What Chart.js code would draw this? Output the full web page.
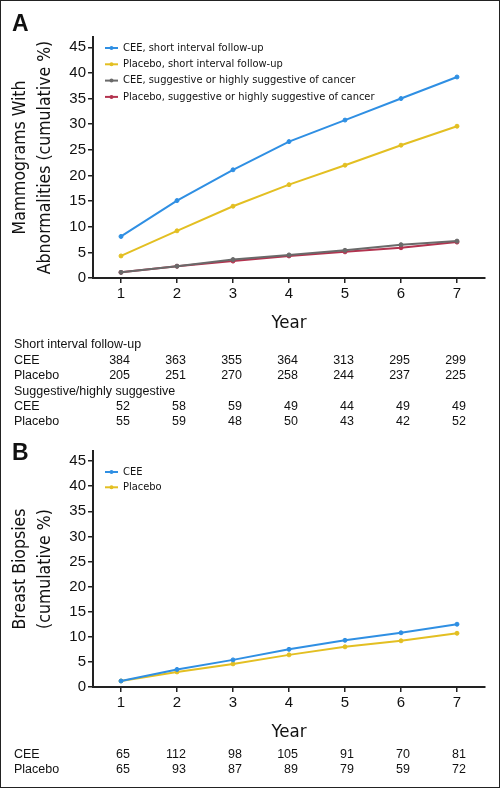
<!DOCTYPE html>
<html lang="en">
<head>
<meta charset="UTF-8">
<title>Mammograms and breast biopsies</title>
<script src="https://cdn.jsdelivr.net/npm/chart.js"></script>
<style>
  body { margin: 0; background: #fff; }
  #frame { position: relative; width: 500px; height: 788px; overflow: hidden; }
  #edge { position: absolute; left: 0; top: 0; right: 0; bottom: 0; border: 1.5px solid #222; pointer-events: none; }
  .panel { position: absolute; left: 0; width: 500px; }
  .letter { position: absolute; left: 12px; font: bold 23px "Liberation Sans", Arial, sans-serif; color: #111; }
</style>
</head>
<body>
<div id="frame">
  <div class="panel" style="top:0;height:440px"><canvas id="chartA" width="500" height="440"></canvas></div>
  <div class="panel" style="top:440px;height:348px"><canvas id="chartB" width="500" height="348"></canvas></div>
  <div class="letter" style="top:10px">A</div>
  <div class="letter" style="top:439px">B</div>
  <div id="edge"></div>
</div>
<script>
  const years = [1, 2, 3, 4, 5, 6, 7];
  const yTicks = [0, 5, 10, 15, 20, 25, 30, 35, 40, 45];

  // panel A, cumulative % of mammograms with abnormalities
  const ceeShort = [8.1, 15.1, 21.1, 26.6, 30.8, 35.0, 39.2];
  const placeboShort = [4.3, 9.2, 14.0, 18.2, 22.0, 25.9, 29.6];
  const ceeSuggestive = [1.1, 2.3, 3.6, 4.5, 5.4, 6.5, 7.2];
  const placeboSuggestive = [1.1, 2.3, 3.3, 4.3, 5.1, 5.9, 7.0];

  // panel B, cumulative % of breast biopsies
  const ceeBiopsy = [1.2, 3.5, 5.4, 7.5, 9.3, 10.8, 12.5];
  const placeboBiopsy = [1.2, 3.0, 4.6, 6.4, 8.0, 9.2, 10.7];

  // counts under the charts
  const ceeShortN = [384, 363, 355, 364, 313, 295, 299];
  const placeboShortN = [205, 251, 270, 258, 244, 237, 225];
  const ceeSuggestiveN = [52, 58, 59, 49, 44, 49, 49];
  const placeboSuggestiveN = [55, 59, 48, 50, 43, 42, 52];
  const ceeBiopsyN = [65, 112, 98, 105, 91, 70, 81];
  const placeboBiopsyN = [65, 93, 87, 89, 79, 59, 72];

  const blue = '#2f8fe3';
  const gold = '#e3bf22';
  const grey = '#6a6a6a';
  const wine = '#b3334f';

  const narrow = '"Liberation Sans Narrow", "DejaVu Sans Condensed", sans-serif';
  const regular = '"Liberation Sans", Arial, sans-serif';

  function points(values) {
    return years.map((y, i) => ({ x: y, y: values[i] }));
  }

  function series(label, values, color) {
    return {
      label: label,
      data: points(values),
      borderColor: color,
      backgroundColor: color,
      borderWidth: 2,
      pointRadius: 2,
      pointBorderWidth: 1,
      pointStyle: 'circle',
      tension: 0
    };
  }

  // legend drawn inside the plot, top left
  function insideLegend(top, step) {
    return {
      id: 'insideLegend',
      afterDatasetsDraw(chart) {
        const ctx = chart.ctx;
        const area = chart.chartArea;
        ctx.save();
        ctx.font = '11px ' + narrow;
        ctx.textBaseline = 'middle';
        ctx.textAlign = 'left';
        chart.data.datasets.forEach((ds, i) => {
          const y = area.top + top + i * step;
          const x0 = area.left + 12;
          ctx.strokeStyle = ds.borderColor;
          ctx.lineWidth = 2;
          ctx.beginPath();
          ctx.moveTo(x0, y);
          ctx.lineTo(x0 + 13, y);
          ctx.stroke();
          ctx.fillStyle = ds.borderColor;
          ctx.beginPath();
          ctx.arc(x0 + 6.5, y, 2, 0, Math.PI * 2);
          ctx.fill();
          ctx.fillStyle = '#111';
          ctx.fillText(ds.label, x0 + 18, y);
        });
        ctx.restore();
      }
    };
  }

  // counts table aligned to the year ticks
  function countTable(rows, top, step) {
    return {
      id: 'countTable',
      afterDraw(chart) {
        const ctx = chart.ctx;
        const xs = chart.scales.x;
        ctx.save();
        ctx.font = '12.5px ' + regular;
        ctx.fillStyle = '#111';
        ctx.textBaseline = 'middle';
        rows.forEach((row, i) => {
          const y = top + i * step;
          ctx.textAlign = 'left';
          ctx.fillText(row[0], 14, y);
          if (row[1]) {
            ctx.textAlign = 'right';
            row[1].forEach((v, j) => {
              ctx.fillText(String(v), xs.getPixelForValue(years[j]) + 9, y);
            });
          }
        });
        ctx.restore();
      }
    };
  }

  function makeChart(id, datasets, yTitle, padding, legend, table) {
    return new Chart(document.getElementById(id), {
      type: 'line',
      data: { datasets: datasets },
      plugins: [legend, table],
      options: {
        responsive: false,
        animation: false,
        devicePixelRatio: 1,
        layout: { padding: padding },
        plugins: {
          legend: { display: false },
          tooltip: { enabled: false }
        },
        scales: {
          x: {
            type: 'linear',
            min: 0.5,
            max: 7.5,
            afterBuildTicks: s => { s.ticks = years.map(v => ({ value: v })); },
            afterFit: s => { s.height = 60; },
            ticks: { color: '#111', font: { family: regular, size: 15 }, padding: 2 },
            grid: { drawOnChartArea: false, drawTicks: true, tickLength: 5, color: '#222', lineWidth: 1.5 },
            border: { color: '#222', width: 2 },
            title: { display: true, text: 'Year', color: '#111', font: { family: narrow, size: 18.5 }, padding: { top: 0, bottom: 4 } }
          },
          y: {
            min: 0,
            max: 47,
            afterBuildTicks: s => { s.ticks = yTicks.map(v => ({ value: v })); },
            afterFit: s => { s.width = 93; },
            ticks: { color: '#111', font: { family: regular, size: 15 }, padding: 2 },
            grid: { drawOnChartArea: false, drawTicks: true, tickLength: 5, color: '#222', lineWidth: 1.5 },
            border: { color: '#222', width: 2 },
            title: { display: true, text: yTitle, color: '#111', font: { family: narrow, size: 17.5, lineHeight: 1.43 }, padding: { top: 7.5, bottom: 0 } }
          }
        }
      }
    });
  }

  makeChart('chartA', [
    series('CEE, short interval follow-up', ceeShort, blue),
    series('Placebo, short interval follow-up', placeboShort, gold),
    series('CEE, suggestive or highly suggestive of cancer', ceeSuggestive, grey),
    series('Placebo, suggestive or highly suggestive of cancer', placeboSuggestive, wine)
  ], ['Mammograms With', 'Abnormalities (cumulative %)'],
    { top: 37, right: 15, bottom: 102, left: 0 },
    insideLegend(11, 16.3),
    countTable([
      ['Short interval follow-up'],
      ['CEE', ceeShortN],
      ['Placebo', placeboShortN],
      ['Suggestive/highly suggestive'],
      ['CEE', ceeSuggestiveN],
      ['Placebo', placeboSuggestiveN]
    ], 345, 15.4));

  makeChart('chartB', [
    series('CEE', ceeBiopsy, blue),
    series('Placebo', placeboBiopsy, gold)
  ], ['Breast Biopsies', '(cumulative %)'],
    { top: 8, right: 15, bottom: 41, left: 0 },
    insideLegend(21, 15.3),
    countTable([
      ['CEE', ceeBiopsyN],
      ['Placebo', placeboBiopsyN]
    ], 315, 15));
</script>
</body>
</html>
